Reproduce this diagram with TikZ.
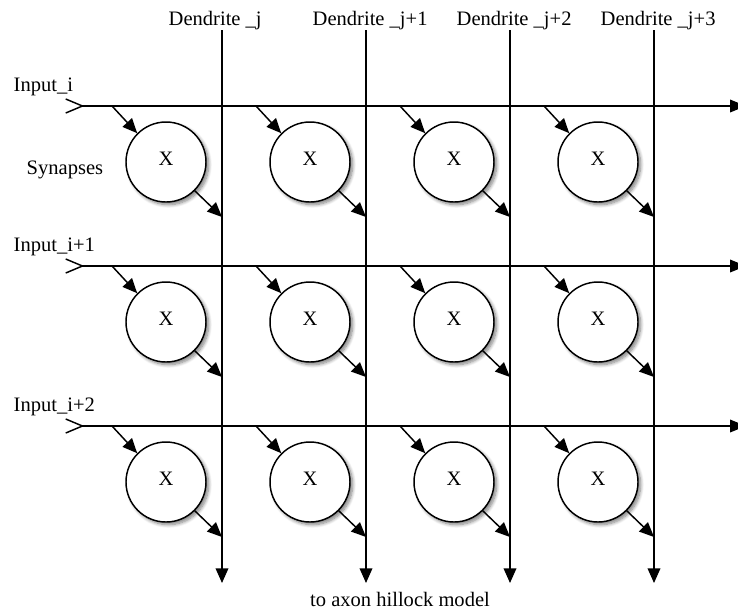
\documentclass[tikz,border=0pt]{standalone}
\usepackage{fontspec}
\setmainfont{Liberation Serif}
\usetikzlibrary{arrows.meta}
\usetikzlibrary{shadows.blur}

\begin{document}
\begin{tikzpicture}[x=0.75pt, y=-0.75pt, line width=1.1pt, font=\fontsize{15.4}{18}\selectfont]
	\tikzstyle{synapse} = [draw, circle, fill=white, minimum size=60pt, inner sep=0pt, text depth=5pt, line width=1.1pt,
		blur shadow={shadow xshift=2pt, shadow yshift=-2pt, shadow blur radius=2.5pt, shadow blur steps=8, shadow opacity=50}]
	\tikzstyle{caption} = [inner sep=0pt, anchor=base west]
	\tikzstyle{tip} = [-{Triangle[length=11pt, width=9.5pt]}]
	\tikzstyle{inlet} = [{Straight Barb[reversed, length=12.5pt, width=10.5pt]}-{Triangle[length=12pt, width=9.5pt]}]

	\useasboundingbox (0,0) rectangle (738,612);

	% dendrites (vertical lines)
	\foreach \j/\xd/\lab in {1/222/{Dendrite \_j}, 2/366/{Dendrite \_j+1}, 3/510/{Dendrite \_j+2}, 4/654/{Dendrite \_j+3}} {
		\coordinate (d\j top) at (\xd,30);
		\coordinate (d\j bot) at (\xd,583);
		\node[caption] (dl\j) at (\xd-54,25) {\lab};
		\draw[tip] (d\j top) -- (d\j bot);
	}

	% inputs (horizontal lines)
	\foreach \i/\yr/\lab in {1/106/{Input\_i}, 2/266/{Input\_i+1}, 3/426/{Input\_i+2}} {
		\coordinate (in\i) at (65,\yr);
		\coordinate (out\i) at (746,\yr);
		\node[caption] (il\i) at (13,\yr-15) {\lab};
		\draw[inlet] (in\i) -- (out\i);
	}

	% synapses
	\foreach \i/\yr in {1/106, 2/266, 3/426}
		\foreach \j/\xd in {1/222, 2/366, 3/510, 4/654} {
			\node[synapse] (s\i\j) at (\xd-56,\yr+56) {X};
			\coordinate (a\i\j) at (\xd-110,\yr);
			\coordinate (b\i\j) at (\xd,\yr+111);
			\draw[tip] (a\i\j) -- (s\i\j.135);
			\draw[tip] (s\i\j.-45) -- (b\i\j);
		}

	\node[caption] (syn) at (26,174) {Synapses};
	\node[inner sep=0pt, anchor=base] (axon) at (400,606) {to axon hillock model};
\end{tikzpicture}
\end{document}
